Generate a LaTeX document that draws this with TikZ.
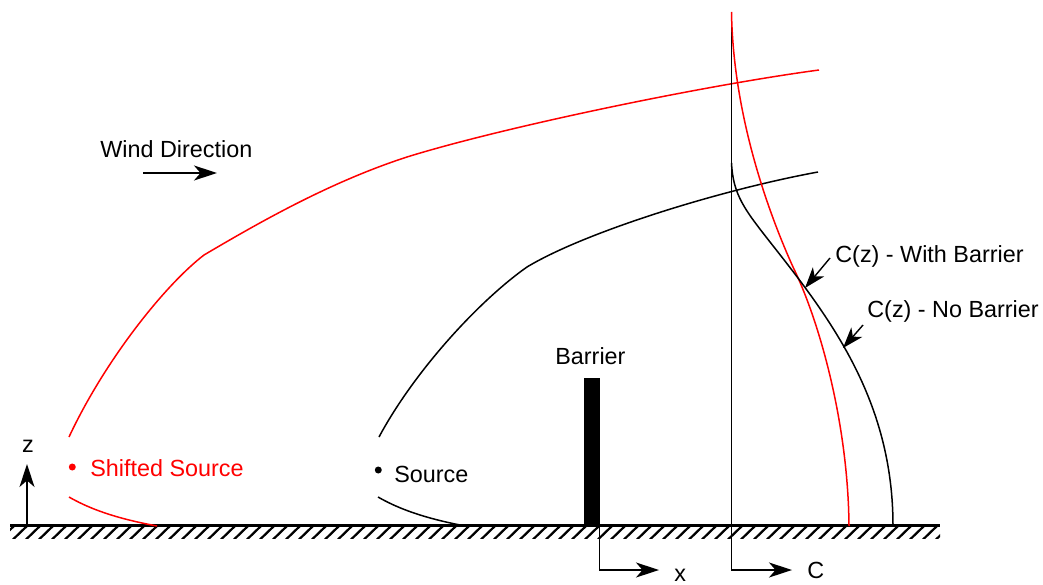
\documentclass[tikz,border=0pt]{standalone}
\usepackage{fontspec}
\setmainfont{Liberation Sans}
\usetikzlibrary{arrows.meta}
\definecolor{plumered}{RGB}{255,0,0}
\begin{document}
\begin{tikzpicture}[x=0.02cm,y=-0.02cm,
  lbl/.style={font=\fontsize{13.3}{16}\selectfont, inner sep=0pt},
  curve/.style={line width=0.3mm},
  axisline/.style={line width=0.28mm},
  tip/.style={-{Stealth[length=4.6mm,width=3mm,inset=1.3mm]}},
  smalltip/.style={-{Stealth[length=4.2mm,width=2.9mm,inset=1.2mm]}},
  dot/.style={circle, fill, inner sep=0pt, minimum size=1.4mm}]
\useasboundingbox (0,0) rectangle (1043,584);

% ground
\begin{scope}
  \clip (10,526) rectangle (940,538.5);
  \foreach \i in {0,...,73} \draw[line width=0.45mm] ({13*\i},539.5) -- ({13*\i+15},525);
\end{scope}
\draw[line width=0.5mm] (10,525.5) -- (940,525.5);

% z axis
\coordinate (zbase) at (27,525);
\coordinate (ztop) at (27,464);
\draw[axisline, tip] (zbase) -- (ztop);
\node[lbl, anchor=base] (zlab) at (28,452) {z};

% wind
\node[lbl, anchor=base west] (wind) at (100,157) {Wind Direction};
\coordinate (w1) at (143,173);
\coordinate (w2) at (217,173);
\draw[axisline, tip] (w1) -- (w2);

% shifted source plume (red)
\node[dot, plumered] (ssrc) at (72.3,467) {};
\node[lbl, anchor=base west, text=plumered] (ssrclab) at (90,476) {Shifted Source};
\draw[curve, plumered] (69,437) .. controls (105,360) and (165,285) .. (204,255)
  .. controls (260,222) and (330,182) .. (407,157)
  .. controls (500,128) and (700,86) .. (819,70);
\draw[curve, plumered] (69,497) .. controls (95,512) and (125,520) .. (157,526);

% source plume (black)
\node[dot, black] (src) at (378.3,470) {};
\node[lbl, anchor=base west] (srclab) at (394,482) {Source};
\draw[curve] (379,437) .. controls (415,370) and (480,300) .. (527,267)
  .. controls (585,232) and (720,190) .. (818,172);
\draw[curve] (378,497) .. controls (404,512) and (434,520) .. (465,526);

% barrier
\node[fill=black, inner sep=0pt, minimum width=0.32cm, minimum height=2.96cm, anchor=south west] (barrier) at (583.5,526) {};
\node[lbl, anchor=base west] (barlab) at (555,364) {Barrier};

% x axis
\coordinate (xa0) at (599.5,526);
\coordinate (xa1) at (599.5,570);
\coordinate (xa2) at (659,570);
\draw[axisline, tip] (xa0) -- (xa1) -- (xa2);
\node[lbl, anchor=base west] (xlab) at (674,581) {x};

% C axis
\coordinate (ca0) at (731.5,12);
\coordinate (ca1) at (731.5,570);
\coordinate (ca2) at (792,570);
\draw[axisline, tip] (ca0) -- (ca1) -- (ca2);
\node[lbl, anchor=base west] (clab) at (807,578) {C};

% concentration profiles
\draw[curve, plumered] (731.5,12) .. controls (733,110) and (765,205) .. (793,267)
  .. controls (818,318) and (848,420) .. (849,526);
\draw[curve] (731.5,163) .. controls (733,195) and (745,210) .. (770,242)
  .. controls (830,318) and (893,400) .. (893,526);

% profile labels
\node[lbl, anchor=base west] (withlab) at (835,262) {C(z) - With Barrier};
\node[lbl, anchor=base west] (nolab) at (867,317) {C(z) - No Barrier};
\coordinate (a1s) at (830,258);
\coordinate (a1e) at (805,288);
\coordinate (a2s) at (863,325);
\coordinate (a2e) at (843,348);
\draw[axisline, smalltip] (a1s) -- (a1e);
\draw[axisline, smalltip] (a2s) -- (a2e);
\end{tikzpicture}
\end{document}
